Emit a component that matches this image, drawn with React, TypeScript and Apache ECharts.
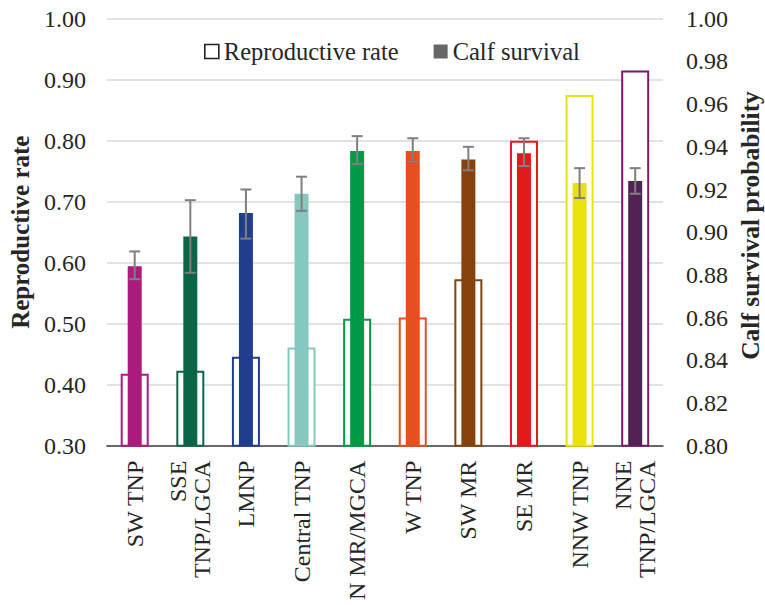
import React, { useEffect, useRef } from 'react';
import * as echarts from 'echarts';

const categories = ['SW TNP', 'SSE\nTNP/LGCA', 'LMNP', 'Central TNP', 'N MR/MGCA', 'W TNP', 'SW MR', 'SE MR', 'NNW TNP', 'NNE\nTNP/LGCA'];
const reproductiveRate = [0.418, 0.423, 0.446, 0.461, 0.508, 0.51, 0.573, 0.8, 0.875, 0.915];
const calfSurvival = [0.884, 0.898, 0.909, 0.918, 0.938, 0.938, 0.934, 0.937, 0.923, 0.924];
const survivalLower = [0.878, 0.881, 0.897, 0.91, 0.932, 0.933, 0.929, 0.931, 0.916, 0.918];
const survivalUpper = [0.891, 0.915, 0.92, 0.926, 0.945, 0.944, 0.94, 0.944, 0.93, 0.93];
const fillColors = ['#AD1A7E', '#0B6645', '#203D8F', '#85C8BF', '#009A44', '#E5501E', '#86420C', '#E31A1C', '#EBE10E', '#542252'];
const borderColors = ['#AD1A7E', '#0B6645', '#203D8F', '#85C8BF', '#009A44', '#E5501E', '#86420C', '#E31A1C', '#EBE10E', '#7A1A6C'];

const FONT = "'Liberation Serif', 'Times New Roman', serif";
const TXT = '#262626';

export default function App() {
  const ref = useRef<HTMLDivElement>(null);
  useEffect(() => {
    if (!ref.current) return;
    const chart = echarts.init(ref.current, null, { renderer: 'svg' });
    const option: any = {
      animation: false,
      backgroundColor: '#fff',
      textStyle: { fontFamily: FONT },
      grid: { left: 100, right: 102, top: 18.7, bottom: 159.3, containLabel: false },
      legend: {
        top: 34,
        left: 199,
        itemWidth: 14,
        itemHeight: 14,
        itemGap: 35,
        icon: 'rect',
        textStyle: { fontFamily: FONT, fontSize: 24.5, color: TXT },
        data: [
          { name: 'Reproductive rate', itemStyle: { color: '#fff', borderColor: '#222', borderWidth: 1.6 } },
          { name: 'Calf survival', itemStyle: { color: '#666', borderWidth: 0 } },
        ],
      },
      graphic: [
        {
          type: 'text',
          x: 750,
          y: 225.5,
          rotation: Math.PI / 2,
          style: {
            text: 'Calf survival probability',
            font: `bold 25.5px ${FONT}`,
            fill: TXT,
            align: 'center',
            verticalAlign: 'middle',
          },
        },
      ],
      xAxis: [
        {
          type: 'category',
          data: categories,
          axisLine: { lineStyle: { color: '#404040', width: 1.5 } },
          axisTick: { show: false },
          axisLabel: {
            rotate: 90,
            margin: 15,
            interval: 0,
            fontFamily: FONT,
            fontSize: 24,
            lineHeight: 24,
            color: TXT,
          },
        },
        {
          type: 'category',
          data: categories,
          show: false,
        },
      ],
      yAxis: [
        {
          type: 'value',
          min: 0.3,
          max: 1.0,
          interval: 0.1,
          name: 'Reproductive rate',
          nameLocation: 'middle',
          nameGap: 70,
          nameRotate: 90,
          nameTextStyle: { fontFamily: FONT, fontSize: 25, fontWeight: 'bold', color: TXT },
          axisLine: { show: false },
          axisTick: { show: false },
          axisLabel: { formatter: (v: number) => v.toFixed(2), margin: 21, fontFamily: FONT, fontSize: 24, color: TXT },
          splitLine: { lineStyle: { color: '#D9D9D9', width: 1.5 } },
        },
        {
          type: 'value',
          min: 0.8,
          max: 1.0,
          interval: 0.02,
          axisLine: { show: false },
          axisTick: { show: false },
          axisLabel: { formatter: (v: number) => v.toFixed(2), margin: 23, fontFamily: FONT, fontSize: 24, color: TXT },
          splitLine: { show: false },
        },
      ],
      series: [
        {
          name: 'Reproductive rate',
          type: 'bar',
          xAxisIndex: 0,
          yAxisIndex: 0,
          barWidth: 28,
          itemStyle: { color: '#fff', borderColor: '#222', borderWidth: 2 },
          data: reproductiveRate.map((v, i) => ({
            value: v,
            itemStyle: { color: '#fff', borderColor: borderColors[i], borderWidth: 2 },
          })),
          z: 2,
        },
        {
          name: 'Calf survival',
          type: 'bar',
          xAxisIndex: 1,
          yAxisIndex: 1,
          barWidth: 14,
          itemStyle: { color: '#666' },
          data: calfSurvival.map((v, i) => ({ value: v, itemStyle: { color: fillColors[i] } })),
          z: 3,
        },
        {
          name: 'error',
          type: 'custom',
          xAxisIndex: 1,
          yAxisIndex: 1,
          z: 4,
          silent: true,
          encode: { x: 0, y: [1, 2] },
          data: categories.map((_, i) => [i, survivalLower[i], survivalUpper[i]]),
          renderItem: (params: any, api: any) => {
            const x = api.value(0);
            const lo = api.coord([x, api.value(1)]);
            const hi = api.coord([x, api.value(2)]);
            const hw = 5.5;
            const st = { stroke: '#7F7F7F', lineWidth: 2 };
            return {
              type: 'group',
              children: [
                { type: 'line', shape: { x1: lo[0], y1: lo[1], x2: hi[0], y2: hi[1] }, style: st },
                { type: 'line', shape: { x1: lo[0] - hw, y1: lo[1], x2: lo[0] + hw, y2: lo[1] }, style: st },
                { type: 'line', shape: { x1: hi[0] - hw, y1: hi[1], x2: hi[0] + hw, y2: hi[1] }, style: st },
              ],
            };
          },
        },
      ],
    };
    chart.setOption(option);
    return () => chart.dispose();
  }, []);
  return <div ref={ref} style={{ position: 'fixed', left: 0, top: 0, width: 765, height: 605, background: '#fff' }} />;
}
